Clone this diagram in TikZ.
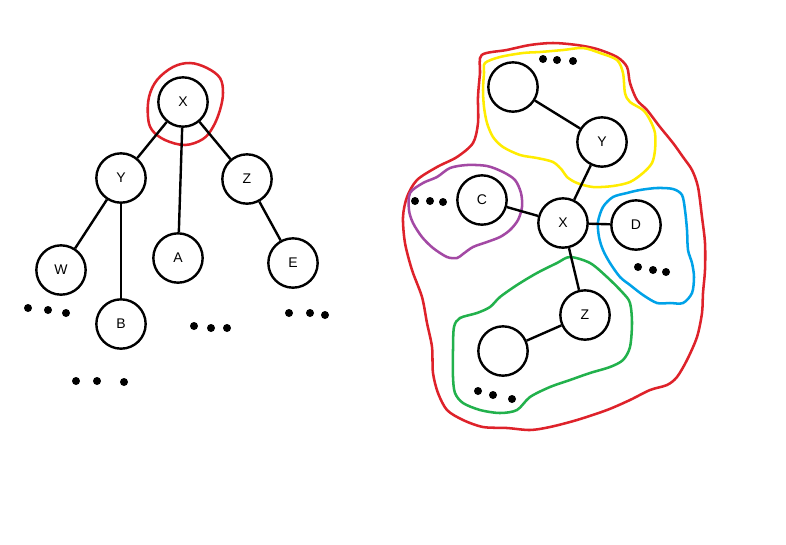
\documentclass[tikz,border=0pt]{standalone}
\usepackage{fontspec}
\setmainfont{Liberation Sans}
\definecolor{pred}{RGB}{222,34,42}
\definecolor{pyellow}{RGB}{255,236,0}
\definecolor{ppurple}{RGB}{163,73,164}
\definecolor{pblue}{RGB}{0,162,232}
\definecolor{pgreen}{RGB}{34,177,76}
\begin{document}
\begin{tikzpicture}[x=0.75pt,y=-0.75pt,
  vnode/.style={circle,draw=black,line width=1.8pt,minimum size=37pt,inner sep=0pt,font=\fontsize{10.5}{12}\selectfont,fill=white},
  edge/.style={line width=1.8pt,black},
  blob/.style={line width=1.9pt},
  dotf/.style={fill=black}]
\useasboundingbox (0,0) rectangle (786,544);
% ---------- left tree ----------
\draw[blob,pred] plot[smooth cycle,tension=0.6] coordinates {(148,117)(149,97)(157,80)(173,67)(190,63)(207,68)(220,78)(223,93)(220,110)(213,127)(203,139)(185,145)(165,140)(152,130)};
\node[vnode] (lX) at (183,102) {X};
\node[vnode] (lY) at (121,178) {Y};
\node[vnode] (lZ) at (247,179) {Z};
\node[vnode] (lA) at (178,258) {A};
\node[vnode] (lW) at (61,270) {W};
\node[vnode] (lB) at (121,324) {B};
\node[vnode] (lE) at (293,263) {E};
\draw[edge] (lX) -- (lY);
\draw[edge] (lX) -- (lA);
\draw[edge] (lX) -- (lZ);
\draw[edge] (lY) -- (lW);
\draw[edge] (lY) -- (lB);
\draw[edge] (lZ) -- (lE);
\foreach \p in {(28,308),(48,310),(66,313),(76,381),(97,381),(124,382),(194,326),(211,328),(227,328),(289,313),(310,313),(325,315)}
  \fill[dotf] \p circle (4);
% ---------- right graph ----------
\draw[blob,pred] plot[smooth cycle,tension=0.5] coordinates {(481.7,55)(506.7,50)(530,45)(553,43)(577,45)(597,49)(617,57)(627,67)(630,83)(637,100)(647,110)(660,127)(673,143)(683,157)(692,170)(698,187)(702,217)(705,243)(705,270)(703,293)(702,313)(697,337)(687,360)(677,377)(667,385)(650,390)(630,400)(607,410)(577,420)(550,427)(530,430)(507,428)(483,427)(463,420)(447,410)(438,393)(433,373)(432,347)(427,323)(422,297)(412,270)(405,243)(403,217)(407,197)(417,180)(437,167)(457,157)(473,143)(478,123)(478,97)(480,73)};
\draw[blob,pyellow] plot[smooth cycle,tension=0.5] coordinates {(485,63)(500,57)(523,53)(540,52)(563,50)(583,48)(600,53)(617,60)(623,73)(625,93)(630,102)(643,110)(650,120)(655,133)(655,150)(652,163)(643,173)(630,182)(613,186)(593,187)(577,183)(567,177)(562,170)(553,162)(537,158)(520,155)(503,147)(493,137)(487,123)(484,107)(483,90)(484,73)};
\draw[blob,ppurple] plot[smooth cycle,tension=0.5] coordinates {(410,193)(423,183)(437,177)(450,168)(467,165)(487,166)(503,172)(515,180)(521,193)(522,207)(518,220)(510,230)(500,237)(487,242)(473,247)(463,254)(457,258)(447,257)(433,248)(422,237)(413,223)(409,210)};
\draw[blob,pblue] plot[smooth cycle,tension=0.5] coordinates {(598,222)(603,207)(613,197)(627,193)(640,190)(657,188)(673,189)(682,195)(685,210)(687,230)(688,250)(692,263)(694,277)(692,293)(683,303)(670,303)(657,303)(643,295)(630,285)(620,277)(610,263)(603,250)(599,237)};
\draw[blob,pgreen] plot[smooth cycle,tension=0.5] coordinates {(570,257)(590,263)(607,277)(623,293)(630,303)(632,323)(630,347)(623,360)(610,367)(590,373)(570,380)(550,387)(530,397)(517,410)(500,413)(480,410)(463,403)(455,393)(453,377)(453,350)(454,327)(460,318)(477,313)(490,307)(500,297)(517,285)(537,273)(557,263)};
\node[vnode,fill=none] (rT) at (513,87) {};
\node[vnode,fill=none] (rY) at (602,142) {Y};
\node[vnode,fill=none] (rC) at (482,200) {C};
\node[vnode,fill=none] (rX) at (563,223) {X};
\node[vnode,fill=none] (rD) at (636,225) {D};
\node[vnode,fill=none] (rZ) at (585,315) {Z};
\node[vnode,fill=none] (rB) at (503,351) {};
\draw[edge] (rT) -- (rY);
\draw[edge] (rY) -- (rX);
\draw[edge] (rC) -- (rX);
\draw[edge] (rX) -- (rD);
\draw[edge] (rX) -- (rZ);
\draw[edge] (rZ) -- (rB);
\foreach \p in {(543,59),(557,60),(573,61),(415,201),(430,201),(443,202),(638,267),(653,270),(666,272),(478,391),(493,395),(512,399)}
  \fill[dotf] \p circle (4);
\end{tikzpicture}
\end{document}
